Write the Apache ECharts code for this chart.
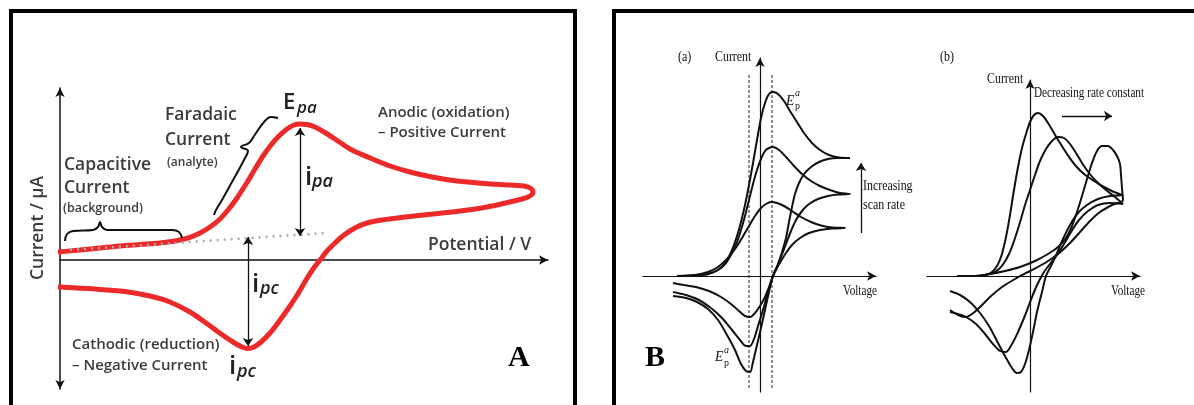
<!DOCTYPE html>
<html><head><meta charset="utf-8">
<script src="https://cdn.jsdelivr.net/npm/echarts@6/dist/echarts.min.js"></script>
<style>html,body{margin:0;padding:0;background:#fff}#c{width:1194px;height:405px}</style>
</head><body><div id="c"></div>
<script>
// ---------- Panel A : cyclic voltammogram (arbitrary units, origin at axis crossing) ----------
const aPotential = [-2,20,40,60,80,100,115,128,140,150,159,168,177,186,195,203,211,219,227,234,240,247,255,264,275,290,310,330,350,372,397,425,450,464,471,473,470,462,450,427,400,373,345,322,307,295,284,275,267,260,253,246,239,230,220,210,201,194,188,182,173,161,146,130,110,90,65,35,-2];
const aCurrent   = [8,10,12,14,15.5,17,19,22,27,33,40,50,62,76,91,104,115,124,131,135,136,135.5,133,128,121,111,102,94,88,83,79,76.5,75,74,71.5,68,64,61,58,53,49,46,43,40,37,32,25,17,9,0,-9,-20,-32,-46,-60,-73,-82,-87,-88.5,-87,-82,-74,-63,-52,-42,-36,-31.5,-29,-27];
const aBaselineX = [10, 265];
const aBaselineY = [10, 27];
const aIpaX = [240, 240], aIpaY = [132, 24];
const aIpcX = [188, 188], aIpcY = [23, -86];
const capBraceX = [5,7,13,33,38,40,42,47,112,119,122];
const capBraceY = [19,26,29,30,33,38,33,30,30,28,22];
const faraBraceX = [218,211,204,194,189,181,188,184,172,162,156,154];
const faraBraceY = [142,143,138,124,117,113,109,100,78,60,50,45];

// ---------- Panel B(a) : increasing scan rate ----------
const ba1X = [-83,-65,-52,-42,-34,-28,-23,-19,-15,-11,-7,-3,1,5,9,13,18,24,30,37,44,52,60,69,79,90, 78,68,59,51,44,39,35,32,29,26,22,18,13,9,5,1,-3,-7,-10,-14,-19,-25,-33,-42,-52,-63,-74,-87];
const ba1Y = [0,0.5,2,6,14,26,40,54,71,91,113,136,158,173,182,184,182,175,165,154,143,133,126,121,118.5,118, 118,117,114,109,102,93,82,69,54,38,24,12,0,-16,-34,-52,-69,-86,-96,-95,-88,-74,-59,-44,-33,-26,-22,-20];
const ba2X = [-83,-65,-52,-42,-34,-28,-23,-19,-15,-11,-7,-3,1,5,9,13,19,26,34,42,51,60,70,80,90, 78,68,58,49,42,36,31,26,21,17,13,8,3,-2,-6,-10,-14,-20,-28,-38,-49,-61,-74,-87];
const ba2Y = [0,0.5,2,6,13,23,34,46,60,76,92,106,117,125,128,129,126,119,110,102,95,90,86,83,82, 81.5,80,77,72,65,56,45,32,19,9,0,-16,-34,-50,-63,-70,-70,-64,-54,-42,-32,-24,-19,-16];
const ba3X = [-83,-65,-52,-42,-33,-25,-18,-11,-5,1,6,11,17,24,32,41,51,61,72,85, 72,60,49,40,32,26,21,17,13,9,5,0,-5,-10,-15,-21,-29,-39,-51,-64,-76,-87];
const ba3Y = [0,1,4,9,17,27,38,50,60,68,72,74,73,70,65,59,54,50.5,48.5,48, 47.5,46,43,38,31,23,15,8,0,-11,-21,-30,-37,-41,-40,-35,-28,-21,-15,-11,-9,-7];
const baDashX1 = [-11,-11], baDashX2 = [12,12], baDashY = [201,-112];
const baArrowX = [101,101], baArrowY = [43,113];

// ---------- Panel B(b) : decreasing rate constant ----------
const bb1X = [-73,-55,-45,-38,-33,-29,-26,-23,-20,-17,-14,-11,-8,-4,0,4,8,13,18,24,30,37,45,54,64,74,84,92, 80,68,57,48,40,33,27,21,16,12,7,3,-1,-5,-9,-13,-18,-25,-33,-41,-50,-60,-70,-80];
const bb1Y = [0,0,1,4,10,19,30,44,61,80,98,114,128,142,154,161,163,160,153,143,133,122,111,102,95,89,84,81, 80,77,71,63,51,37,23,10,0,-16,-36,-56,-74,-88,-96,-97,-92,-80,-65,-50,-37,-26,-19,-15];
const bb2X = [-73,-55,-45,-37,-31,-26,-21,-17,-13,-9,-5,0,5,10,16,22,28,34,40,46,52,59,67,76,85,93, 80,68,58,49,41,34,27,20,14,9,4,-1,-6,-12,-18,-24,-30,-37,-45,-54,-64,-72,-80];
const bb2Y = [0,0,1,3,7,13,22,32,44,57,71,86,101,115,127,135,139,138,132,123,113,103,94,86,79,72, 73,71,65,56,44,32,21,12,4,-5,-16,-29,-42,-56,-68,-76,-75,-68,-58,-48,-41,-38,-36];
const bb3X = [-73,-55,-40,-25,-10,5,18,28,36,42,47,52,57,62,67,72,78,83,87,90,91,92,93, 82,70,60,50,40,28,15,0,-15,-28,-40,-50,-58,-65,-72,-80];
const bb3Y = [0,0,2,5,9,15,22,29,38,50,64,80,97,113,125,130,130,126,120,112,101,88,76, 71,64,55,44,33,22,13,5,-3,-11,-21,-31,-38,-41,-39,-34];
const bbArrowX = [32,82], bbArrowY = [160,160];

const zip = (xs, ys) => xs.map((x, i) => [x, ys[i]]);

const chart = echarts.init(document.getElementById('c'), null, {renderer:'canvas'});

function xA(grid, min, max, w) {
  return {gridIndex:grid, type:'value', min:min, max:max,
    axisLine:{onZero:true, symbol:['none','arrow'], symbolSize:[7,9], lineStyle:{color:'#111', width:w}},
    axisTick:{show:false}, axisLabel:{show:false}, splitLine:{show:false}};
}
function yA(grid, min, max, w, sym) {
  return {gridIndex:grid, type:'value', min:min, max:max,
    axisLine:{onZero:true, symbol:sym, symbolSize:[7,9], lineStyle:{color:'#111', width:w}},
    axisTick:{show:false}, axisLabel:{show:false}, splitLine:{show:false}};
}
function curve(idx, xs, ys, color, width, z, sm) {
  return {type:'line', xAxisIndex:idx, yAxisIndex:idx, data:zip(xs, ys), smooth:sm == null ? 0.3 : sm,
    showSymbol:false, symbol:'none', clip:false, z:z || 3, silent:true,
    lineStyle:{color:color, width:width}};
}
function arrow(idx, xs, ys, sym) {
  return {type:'lines', coordinateSystem:'cartesian2d', xAxisIndex:idx, yAxisIndex:idx, z:6,
    symbol:sym, symbolSize:8, silent:true,
    lineStyle:{color:'#111', width:1.3, opacity:1},
    data:[{coords:zip(xs, ys)}]};
}

const sansCol = '#3c3c3c';
function txt(x, y, s, font, opts) {
  opts = opts || {};
  return {type:'text', x:x, y:y, rotation:opts.rot || 0, scaleX:opts.sx || 1, z:100,
    style:{text:s, font:font, fill:opts.fill || sansCol, textAlign:opts.align || 'left', textVerticalAlign:'middle'}};
}
const OS = '"Open Sans", sans-serif';
const SR = '"Liberation Serif", serif';

const graphic = [
  {type:'rect', shape:{x:11, y:11, width:564, height:430}, style:{fill:'none', stroke:'#000', lineWidth:4}, z:50},
  {type:'rect', shape:{x:614, y:11, width:640, height:430}, style:{fill:'none', stroke:'#000', lineWidth:4}, z:50},
  // Panel A texts
  txt(283, 103, 'E', '600 22px ' + OS, {fill:'#222'}),
  txt(297, 108, 'pa', 'italic 600 17px ' + OS, {fill:'#222'}),
  txt(305, 178, 'i', '600 26px ' + OS, {fill:'#222'}),
  txt(312, 182, 'pa', 'italic 600 18px ' + OS, {fill:'#222'}),
  txt(252, 285, 'i', '600 26px ' + OS, {fill:'#222'}),
  txt(260, 289, 'pc', 'italic 600 18px ' + OS, {fill:'#222'}),
  txt(229, 367, 'i', '600 26px ' + OS, {fill:'#222'}),
  txt(237, 372, 'pc', 'italic 600 18px ' + OS, {fill:'#222'}),
  txt(165, 115, 'Faradaic', '600 17.5px ' + OS),
  txt(165, 140, 'Current', '600 17.5px ' + OS),
  txt(167, 163, '(analyte)', '600 12px ' + OS),
  txt(64, 165, 'Capacitive', '600 17.5px ' + OS),
  txt(64, 188, 'Current', '600 17.5px ' + OS),
  txt(63, 208, '(background)', '600 12.5px ' + OS),
  txt(378, 113, 'Anodic (oxidation)', '600 15px ' + OS),
  txt(378, 133, '– Positive Current', '600 15px ' + OS),
  txt(72, 345, 'Cathodic (reduction)', '600 15px ' + OS),
  txt(72, 366, '– Negative Current', '600 15px ' + OS),
  txt(428, 245, 'Potential / V', '600 17.5px ' + OS),
  txt(38, 228, 'Current / μA', '600 17.5px ' + OS, {rot:Math.PI/2, align:'center'}),
  txt(508, 358, 'A', 'bold 30px ' + SR, {fill:'#000'}),
  // Panel B texts
  txt(645, 358, 'B', 'bold 30px ' + SR, {fill:'#000'}),
  txt(678, 57, '(a)', '15px ' + SR, {fill:'#111', sx:0.8}),
  txt(715, 57, 'Current', '14px ' + SR, {fill:'#111', sx:0.85}),
  txt(786, 101, 'E', 'italic 15px ' + SR, {fill:'#111', sx:0.9}),
  txt(795, 93, 'a', 'italic 10px ' + SR, {fill:'#111'}),
  txt(795, 106, 'p', '10px ' + SR, {fill:'#111'}),
  txt(715, 357, 'E', 'italic 15px ' + SR, {fill:'#111', sx:0.9}),
  txt(724, 350, 'a', 'italic 10px ' + SR, {fill:'#111'}),
  txt(724, 363, 'p', '10px ' + SR, {fill:'#111'}),
  txt(863, 186, 'Increasing', '14px ' + SR, {fill:'#111', sx:0.85}),
  txt(863, 205, 'scan rate', '14px ' + SR, {fill:'#111', sx:0.85}),
  txt(843, 291, 'Voltage', '14px ' + SR, {fill:'#111', sx:0.8}),
  txt(940, 57, '(b)', '15px ' + SR, {fill:'#111', sx:0.8}),
  txt(987, 79, 'Current', '14px ' + SR, {fill:'#111', sx:0.85}),
  txt(1034, 93, 'Decreasing rate constant', '14px ' + SR, {fill:'#111', sx:0.8}),
  txt(1111, 291, 'Voltage', '14px ' + SR, {fill:'#111', sx:0.8})
];

const red = '#ec2a2a', blk = '#111';
chart.setOption({
  animation:false,
  backgroundColor:'#fff',
  grid:[
    {left:60, top:88, width:488, height:301},
    {left:643, top:58, width:233, height:334},
    {left:927, top:80, width:213, height:312}
  ],
  xAxis:[xA(0, 0, 488, 1.5), xA(1, -117, 116, 1.2), xA(2, -103, 110, 1.2)],
  yAxis:[yA(0, -129, 172, 1.5, ['arrow','arrow']), yA(1, -116, 218, 1.2, ['none','arrow']), yA(2, -116, 196, 1.2, ['none','arrow'])],
  series:[
    curve(0, aPotential, aCurrent, red, 5, 3, 0.3),
    {type:'line', xAxisIndex:0, yAxisIndex:0, data:zip(aBaselineX, aBaselineY), showSymbol:false, symbol:'none', z:4, silent:true,
      lineStyle:{color:'#a8a8a8', width:2.5, type:[2,5]}},
    {type:'line', xAxisIndex:0, yAxisIndex:0, data:zip(capBraceX, capBraceY), smooth:0.4, showSymbol:false, symbol:'none', z:4, silent:true, clip:false,
      lineStyle:{color:'#111', width:2}},
    {type:'line', xAxisIndex:0, yAxisIndex:0, data:zip(faraBraceX, faraBraceY), smooth:0.4, showSymbol:false, symbol:'none', z:4, silent:true, clip:false,
      lineStyle:{color:'#111', width:2}},
    arrow(0, aIpaX, aIpaY, ['arrow','arrow']),
    arrow(0, aIpcX, aIpcY, ['arrow','arrow']),
    // B(a)
    {type:'line', xAxisIndex:1, yAxisIndex:1, data:zip(baDashX1, baDashY), showSymbol:false, symbol:'none', z:2, silent:true, clip:false,
      lineStyle:{color:'#222', width:1, type:[3,2]}},
    {type:'line', xAxisIndex:1, yAxisIndex:1, data:zip(baDashX2, baDashY), showSymbol:false, symbol:'none', z:2, silent:true, clip:false,
      lineStyle:{color:'#222', width:1, type:[3,2]}},
    curve(1, ba1X, ba1Y, blk, 2),
    curve(1, ba2X, ba2Y, blk, 2),
    curve(1, ba3X, ba3Y, blk, 2),
    arrow(1, baArrowX, baArrowY, ['none','arrow']),
    // B(b)
    curve(2, bb1X, bb1Y, blk, 2),
    curve(2, bb2X, bb2Y, blk, 2),
    curve(2, bb3X, bb3Y, blk, 2),
    arrow(2, bbArrowX, bbArrowY, ['none','arrow'])
  ],
  graphic:graphic
});
</script></body></html>
